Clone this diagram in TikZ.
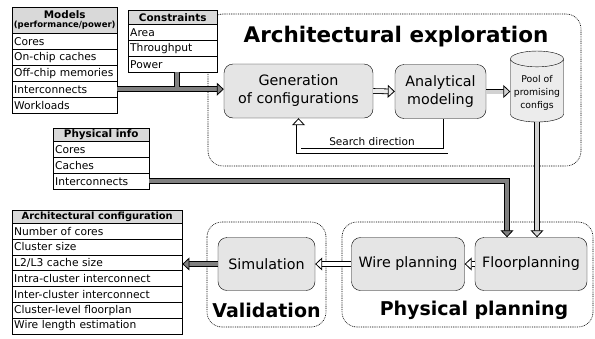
\documentclass[tikz,border=0pt]{standalone}
\usepackage{fontspec}
\setmainfont{DejaVu Sans}
\usetikzlibrary{shapes.geometric, arrows.meta, positioning}

\begin{document}
\begin{tikzpicture}[x=1pt, y=-1pt,
    tabhead/.style={draw, fill=gray!30, anchor=north west, inner sep=0pt, align=center, font=\bfseries\fontsize{10.4}{11}\selectfont},
    tabrow/.style={draw, fill=white, anchor=north west, inner xsep=2pt, inner ysep=0pt, minimum height=16pt, align=left, font=\fontsize{10.7}{12}\selectfont},
    stage/.style={draw, fill=gray!20, rounded corners=9pt, minimum height=54pt, align=center, font=\fontsize{14.3}{18}\selectfont},
    stagegroup/.style={draw, line width=0.6pt, dash pattern=on 0.9pt off 0.9pt, rounded corners=15pt},
    grouptitle/.style={font=\bfseries\fontsize{19}{22}\selectfont},
    fatline/.style={line width=0.8pt, double=#1, double distance=4pt},
    fatline/.default=gray,
    fat/.style={fatline=#1, -{Triangle[open, fill=#1, length=7pt, width=13pt]}},
    fat/.default=gray]
    \useasboundingbox (0,0) rectangle (595,338);

    % groups
    \draw[stagegroup] (208,14) rectangle (581,166);
    \draw[stagegroup] (207,222) rectangle (326,327);
    \draw[stagegroup] (342,222) rectangle (593,327);
    \node[grouptitle, font=\bfseries\fontsize{21.5}{24}\selectfont] (archtitle) at (396,37) {Architectural exploration};
    \node[grouptitle] (validtitle) at (266.5,310.5) {Validation};
    \node[grouptitle] (phystitle) at (474,310) {Physical planning};

    % tables
    \node[tabhead, minimum width=105pt, minimum height=26pt] (models) at (12,7)
        {Models\\[-2pt]{\fontsize{8.5}{9}\selectfont(performance/power)}};
    \foreach \name [count=\i] in {Cores, On-chip caches, Off-chip memories, Interconnects, Workloads}
        \node[tabrow, text width=101pt] (m\i) at (12,{33+16*(\i-1)}) {\name};

    \node[tabhead, minimum width=89pt, minimum height=14pt] (cons) at (128,10) {Constraints};
    \foreach \name [count=\i] in {Area, Throughput, Power}
        \node[tabrow, text width=85pt] (c\i) at (128,{24+16*(\i-1)}) {\name};

    \node[tabhead, minimum width=96pt, minimum height=13pt] (phys) at (53,128) {Physical info};
    \foreach \name [count=\i] in {Cores, Caches, Interconnects}
        \node[tabrow, text width=92pt] (p\i) at (53,{141+16*(\i-1)}) {\name};

    \node[tabhead, minimum width=170pt, minimum height=13pt, font=\bfseries\fontsize{9.9}{11}\selectfont] (acfg) at (12,210) {Architectural configuration};
    \foreach \name [count=\i] in {Number of cores, Cluster size, L2/L3 cache size, Intra-cluster interconnect, Inter-cluster interconnect, Cluster-level floorplan, Wire length estimation}
        \node[tabrow, text width=166pt, minimum height=15.8pt] (a\i) at (12,{223+15.8*(\i-1)}) {\name};

    % stages
    \node[stage, minimum width=149pt] (gen) at (298.5,91) {Generation\\of configurations};
    \node[stage, minimum width=91pt] (anal) at (440.5,91.5) {Analytical\\modeling};
    \node[draw, fill=gray!15, cylinder, shape border rotate=90, aspect=0.3, minimum width=53pt, minimum height=71pt,
        align=center, font=\fontsize{9.3}{13}\selectfont] (pool) at (537,92.5) {Pool of\\promising\\configs};
    \node[stage, minimum width=97pt, minimum height=53pt] (sim) at (266.5,264) {Simulation};
    \node[stage, minimum width=113pt, minimum height=53pt] (wire) at (408,264) {Wire planning};
    \node[stage, minimum width=112pt, minimum height=53pt] (fp) at (531,264) {Floorplanning};

    % connectors
    \draw[fat] (m4.east) -- (m4.east -| gen.west);
    \draw[fatline, shorten >=2pt] ([xshift=4pt]c3.south) -- ([xshift=4pt]c3.south |- m4.east);
    \draw[fat=gray!15] (gen.east) -- (anal.west);
    \draw[fat=gray!35] (anal.east) -- (anal.east -| pool.west);
    \draw[fat=white] ([xshift=5pt]anal.south) -- ++(0,32) -| node[pos=0.25, above=1pt, font=\fontsize{10.5}{12}\selectfont] {Search direction} (gen.south);
    \draw[fat=gray!35] (pool.south) -- (pool.south |- fp.north);
    \draw[fat] (p3.east) -| ([xshift=-24pt]fp.north);
    \draw[fat=white] (fp.west) -- (wire.east);
    \draw[fat=white] (wire.west) -- (sim.east);
    \draw[fat] (sim.west) -- (sim.west -| acfg.east);
\end{tikzpicture}
\end{document}
